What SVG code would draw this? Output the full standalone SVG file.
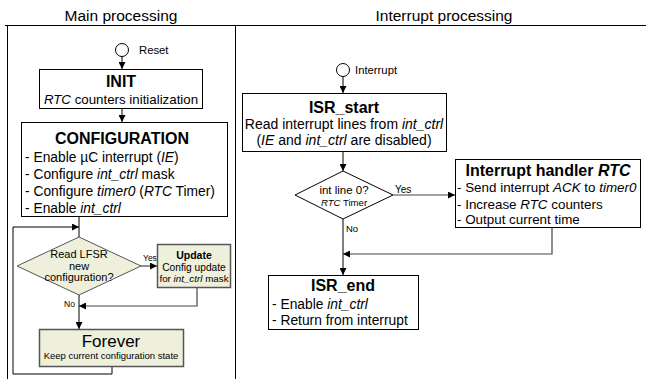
<svg xmlns="http://www.w3.org/2000/svg" width="646" height="379" viewBox="0 0 646 379">
<defs>
<marker id="ah" viewBox="0 0 10 10" refX="10" refY="5" markerWidth="7" markerHeight="7" markerUnits="userSpaceOnUse" orient="auto"><path d="M0,0 L10,5 L0,10 z" fill="#000"/></marker>
<style>
text{font-family:"Liberation Sans",Arial,sans-serif;fill:#000}
.t{font-size:15.5px;text-anchor:middle}
.h{font-size:16px;font-weight:bold;text-anchor:middle}
.b{font-size:13.8px}
.c{text-anchor:middle}
.box{fill:#fff;stroke:#000;stroke-width:1}
.gbox{fill:#eef0dc;stroke:#555;stroke-width:1.5}
.line{fill:none;stroke:#000;stroke-width:1}
.gline{fill:none;stroke:#444;stroke-width:1.2}
.frame{fill:none;stroke:#000;stroke-width:1}
</style>
</defs>
<g id="frame">
<line class="frame" x1="5" y1="25.5" x2="646" y2="25.5" stroke="#444"/>
<line class="frame" x1="7.5" y1="25" x2="7.5" y2="379"/>
<line class="frame" x1="235.5" y1="25" x2="235.5" y2="379"/>
<text class="t" x="121" y="21">Main processing</text>
<text class="t" x="444" y="21">Interrupt processing</text>
</g>
<g id="connectors">
<line class="line" x1="122" y1="56" x2="122" y2="69" marker-end="url(#ah)"/>
<line class="line" x1="122" y1="108" x2="122" y2="122" marker-end="url(#ah)"/>
<line class="line" x1="79" y1="217" x2="79" y2="237"/>
<polyline class="line" points="112,367 112,374 13,374 13,227 79,227" marker-end="url(#ah)"/>
<line class="gline" x1="141" y1="266" x2="157" y2="266" marker-end="url(#ah)"/>
<polyline class="gline" points="197,288 197,306 79,306" marker-end="url(#ah)"/>
<line class="line" x1="79" y1="295" x2="79" y2="329" marker-end="url(#ah)"/>
<line class="line" x1="343" y1="77" x2="343" y2="93" marker-end="url(#ah)"/>
<line class="line" x1="343" y1="152" x2="343" y2="171" marker-end="url(#ah)"/>
<line class="gline" x1="393" y1="195" x2="455" y2="195" marker-end="url(#ah)"/>
<line class="line" x1="343" y1="219" x2="343" y2="275" marker-end="url(#ah)"/>
<polyline class="gline" points="552,228 552,254 343,254" marker-end="url(#ah)"/>
<text x="143" y="261" style="font-size:8.5px">Yes</text>
<text x="64" y="307" style="font-size:8.5px">No</text>
<text x="395" y="193" style="font-size:10px">Yes</text>
<text x="346" y="232" style="font-size:9.5px">No</text>
</g>
<g id="reset">
<circle cx="122" cy="50" r="6.5" fill="#fff" stroke="#000"/>
<text x="139" y="54" style="font-size:11.3px">Reset</text>
</g>
<g id="init">
<rect class="box" x="39.5" y="69.5" width="163" height="39"/>
<text class="h" x="121" y="87">INIT</text>
<text class="c" x="121" y="104" style="font-size:13.3px"><tspan font-style="italic">RTC</tspan> counters initialization</text>
</g>
<g id="configuration">
<rect class="box" x="21.5" y="122.5" width="206" height="94"/>
<text class="h" x="122" y="144">CONFIGURATION</text>
<text class="b" x="25" y="162">- Enable µC interrupt (<tspan font-style="italic">IE</tspan>)</text>
<text class="b" x="25" y="179">- Configure <tspan font-style="italic">int_ctrl</tspan> mask</text>
<text class="b" x="25" y="196">- Configure <tspan font-style="italic">timer0</tspan> (<tspan font-style="italic">RTC</tspan> Timer)</text>
<text class="b" x="25" y="213">- Enable <tspan font-style="italic">int_ctrl</tspan></text>
</g>
<g id="read-lfsr">
<polygon points="79,237 141,266 79,295 17,266" fill="#eef0dc" stroke="#555" stroke-width="1"/>
<text class="c" x="79" y="258" style="font-size:11px">Read LFSR</text>
<text class="c" x="79" y="270" style="font-size:11px">new</text>
<text class="c" x="79" y="281" style="font-size:11px">configuration?</text>
</g>
<g id="update">
<rect class="gbox" x="157.5" y="244.5" width="73" height="43"/>
<text class="c" x="194" y="259" style="font-size:10.5px;font-weight:bold">Update</text>
<text class="c" x="194" y="271" style="font-size:10.2px">Config update</text>
<text class="c" x="194" y="282" style="font-size:9.8px">for <tspan font-style="italic">int_ctrl</tspan> mask</text>
</g>
<g id="forever">
<rect class="gbox" x="39.5" y="329.5" width="144" height="37"/>
<text class="c" x="111" y="347" style="font-size:17px">Forever</text>
<text class="c" x="111" y="359" style="font-size:9.5px">Keep current configuration state</text>
</g>
<g id="interrupt">
<circle cx="343" cy="70" r="6.5" fill="#fff" stroke="#000"/>
<text x="355" y="74" style="font-size:11.3px">Interrupt</text>
</g>
<g id="isr-start">
<rect class="box" x="242.5" y="93.5" width="204" height="58"/>
<text class="h" x="344" y="113">ISR_start</text>
<text class="c" x="344" y="129" style="font-size:14px">Read interrupt lines from <tspan font-style="italic">int_ctrl</tspan></text>
<text class="c" x="344" y="145" style="font-size:14px">(<tspan font-style="italic">IE</tspan> and <tspan font-style="italic">int_ctrl</tspan> are disabled)</text>
</g>
<g id="int-line">
<polygon points="343,171 393,195 343,219 295,195" fill="#fff" stroke="#000"/>
<text class="c" x="344" y="194" style="font-size:11.5px">int line 0?</text>
<text class="c" x="344" y="206" style="font-size:9.6px"><tspan font-style="italic">RTC</tspan> Timer</text>
</g>
<g id="handler">
<rect class="box" x="455.5" y="159.5" width="185" height="68"/>
<text class="h" x="548" y="176">Interrupt handler <tspan font-style="italic">RTC</tspan></text>
<text x="457" y="192" style="font-size:13.4px">- Send interrupt <tspan font-style="italic">ACK</tspan> to <tspan font-style="italic">timer0</tspan></text>
<text x="457" y="209" style="font-size:13.4px">- Increase <tspan font-style="italic">RTC</tspan> counters</text>
<text x="457" y="224" style="font-size:13.4px">- Output current time</text>
</g>
<g id="isr-end">
<rect class="box" x="268.5" y="275.5" width="150" height="54"/>
<text class="h" x="343" y="291">ISR_end</text>
<text class="b" x="272" y="309">- Enable <tspan font-style="italic">int_ctrl</tspan></text>
<text class="b" x="272" y="325">- Return from interrupt</text>
</g>
</svg>
